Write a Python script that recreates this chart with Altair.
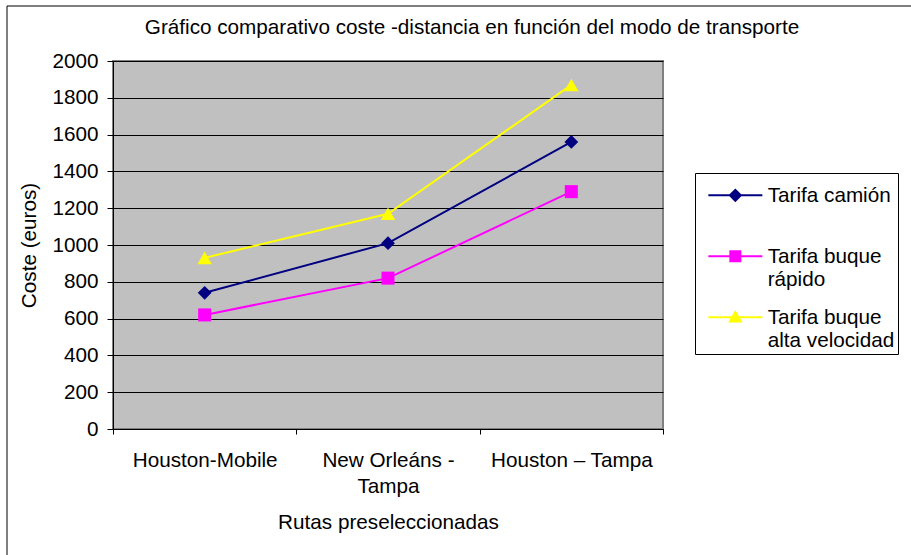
import altair as alt
import pandas as pd

# ---- data ----
routes = ["Houston-Mobile", "New Orleáns - Tampa", "Houston – Tampa"]
series = ["Tarifa camión", "Tarifa buque rápido", "Tarifa buque alta velocidad"]
tarifa_camion = [740, 1010, 1560]
tarifa_buque_rapido = [620, 820, 1290]
tarifa_buque_alta_velocidad = [930, 1170, 1870]
y_ticks = [0, 200, 400, 600, 800, 1000, 1200, 1400, 1600, 1800, 2000]

title_text = "Gráfico comparativo coste -distancia en función del modo de transporte"
x_title = "Rutas preseleccionadas"
y_title = "Coste (euros)"

# ---- styles ----
colors = ["#000080", "#FF00FF", "#FFFF00"]
shapes = ["diamond", "square", "triangle-up"]
sizes = [190, 170, 210]
# legend glyphs (line + marker), lowered to sit on the first text line
legend_paths = [
    "M-5.4,1.8H5.4M0,0.7L1.1,1.8L0,2.9L-1.1,1.8Z",
    "M-5.4,1.8H5.4M-1,0.8H1V2.8H-1Z",
    "M-5.4,1.8H5.4M0,0.75L1.1,2.65H-1.1Z",
]
FONT = "Liberation Sans"
FS = 20.7

rows = []
for s, vals in zip(series, [tarifa_camion, tarifa_buque_rapido, tarifa_buque_alta_velocidad]):
    for i, (r, v) in enumerate(zip(routes, vals)):
        rows.append({"serie": s, "ruta": r, "idx": i, "coste": v})
df = pd.DataFrame(rows)

x_enc = alt.X(
    "ruta:N",
    sort=routes,
    scale=alt.Scale(type="band", domain=routes, paddingInner=0, paddingOuter=0),
    axis=alt.Axis(
        title=x_title,
        labelAngle=0,
        tickBand="extent",
        labelExpr="datum.label == 'New Orleáns - Tampa' ? ['New Orleáns -', 'Tampa'] : datum.label",
        labelLineHeight=26,
        labelPadding=16,
        labelOverlap=False,
        labelLimit=300,
        tickSize=5,
        grid=False,
        titlePadding=17,
    ),
)
y_enc = alt.Y(
    "coste:Q",
    scale=alt.Scale(domain=[0, 2000], nice=False),
    axis=alt.Axis(
        title=y_title,
        values=y_ticks,
        format="d",
        tickSize=6,
        labelPadding=9,
        grid=True,
        gridColor="black",
        gridWidth=1,
        gridOpacity=1,
        titlePadding=12,
    ),
)

layers = []
for s, col, shp, sz in zip(series, colors, shapes, sizes):
    sub = alt.Chart(df).transform_filter(alt.datum.serie == s)
    layers.append(
        sub.mark_line(color=col, strokeWidth=2).encode(x=x_enc, y=y_enc, order=alt.Order("idx:Q"))
    )
    layers.append(
        sub.mark_point(shape=shp, filled=True, size=sz, color=col, opacity=1).encode(x=x_enc, y=y_enc)
    )


def legend_def():
    return alt.Legend(
        title=None,
        orient="none",
        legendX=582,
        legendY=112,
        direction="vertical",
        strokeColor="black",
        fillColor="white",
        padding=3,
        gridAlign="all",
        symbolSize=100,
        symbolOpacity=1,
        symbolFillColor="black",
        symbolStrokeWidth=2,
        symbolOffset=27,
        labelOffset=22,
        labelFont=FONT,
        labelFontSize=FS,
        labelColor="black",
        labelBaseline="top",
        labelLimit=300,
        rowPadding=8,
        labelExpr="indexof(datum.label, 'buque ') > 0 ? ['Tarifa buque', replace(datum.label, 'Tarifa buque ', '')] : datum.label",
    )


legend_layer = alt.Chart(df).mark_point(filled=True, size=100, opacity=0, strokeWidth=2).encode(
    x=x_enc,
    y=y_enc,
    color=alt.Color("serie:N", scale=alt.Scale(domain=series, range=colors), legend=legend_def()),
    stroke=alt.Stroke("serie:N", scale=alt.Scale(domain=series, range=colors), legend=legend_def()),
    shape=alt.Shape("serie:N", scale=alt.Scale(domain=series, range=legend_paths), legend=legend_def()),
)

border = alt.Chart(alt.Data(values=[{}])).mark_rect(
    fill="white", fillOpacity=0, stroke="black", strokeWidth=1
).encode(
    x=alt.value(-106), x2=alt.value(820), y=alt.value(-55), y2=alt.value(530)
)

chart = (
    alt.layer(*layers, legend_layer, border)
    .properties(
        width=550,
        height=368,
        title=alt.TitleParams(
            title_text, font=FONT, fontSize=FS, fontWeight="normal", color="black",
            anchor="middle", dx=84, dy=37,
        ),
        autosize=alt.AutoSizeParams(type="none"),
        padding={"left": 113, "top": 61, "right": 248, "bottom": 126},
    )
    .configure(font=FONT, background="white")
    .configure_view(fill="#C0C0C0", stroke="#808080", strokeWidth=2)
    .configure_axis(
        labelFont=FONT, titleFont=FONT, labelFontSize=FS, titleFontSize=FS,
        titleFontWeight="normal", labelColor="black", titleColor="black",
        domainColor="black", tickColor="black", domainWidth=1, tickWidth=1,
    )
)

chart.save("out.html", embed_options={"renderer": "svg", "actions": False})
